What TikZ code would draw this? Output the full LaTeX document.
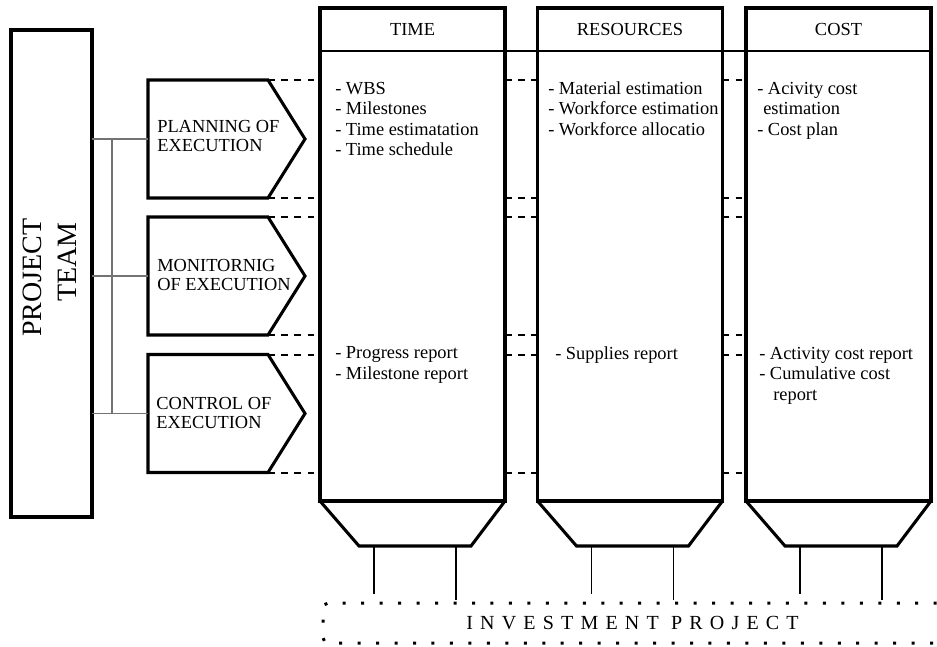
\documentclass[tikz,border=0pt]{standalone}
\usepackage{fontspec}
\setmainfont{Liberation Serif}
\usetikzlibrary{positioning,calc}

\begin{document}
\begin{tikzpicture}[
x=0.75pt, y=-0.75pt,
font=\fontsize{13.8}{15.4}\selectfont,
heavy/.style={line width=2.3pt},
block/.style={draw, heavy, inner sep=0pt, outer sep=0pt},
phase/.style={inner sep=0pt, outer sep=0pt, minimum width=90pt, minimum height=88.5pt},
phasetext/.style={anchor=west, align=left, inner sep=0pt, font=\fontsize{13.8}{14.3}\selectfont},
column/.style={block, minimum width=138.75pt, minimum height=369.75pt},
items/.style={anchor=base west, align=left, inner sep=0pt},
guide/.style={line width=1.5pt, dash pattern=on 4.9pt off 5pt},
link/.style={line width=0.8pt, black!55},
leg/.style={line width=0.8pt},
thickleg/.style={line width=1.6pt}
]
    \useasboundingbox (0,0) rectangle (937,646);

    % project team
    \node (team) [block, minimum width=60.75pt, minimum height=365.25pt] at (51.5,273.5) {};
    \node (teamtext) [rotate=90, align=left, inner sep=0pt,
      font=\fontsize{21}{26}\selectfont] at (50,277.5) {PROJECT\\\hspace*{26pt}TEAM};

    % phases
    \node (plan) [phase] at (208,139) {};
    \node (mon)  [phase] at (208,276) {};
    \node (ctrl) [phase] at (208,413.5) {};
    \foreach \p in {plan,mon,ctrl}
      \draw[heavy, line join=miter] (\p.north east) -- (\p.north west) -- (\p.south west)
        -- (\p.south east) -- ($(\p.east)+(37,0)$) -- cycle;

    \node (plantext) [phasetext] at (157,136) {PLANNING OF\\EXECUTION};
    \node (montext)  [phasetext] at (157,275) {MONITORNIG\\OF EXECUTION};
    \node (ctrltext) [phasetext] at (156,413) {CONTROL OF\\EXECUTION};

    \coordinate (bus) at (112,0);
    \draw[link] (plan.west -| bus) -- (ctrl.west -| bus);
    \foreach \p in {plan,mon,ctrl}
      \draw[link] (\p.west -| team.east) -- (\p.west);

    % columns
    \node (time) [column] at (412.5,254.5) {};
    \node (res)  [column] at (630,254.5) {};
    \node (cost) [column] at (838.5,254.5) {};

    \draw[line width=0.9pt] ($(time.north west)+(0,43)$) -- ($(cost.north east)+(0,43)$);

    \node (timehead) [anchor=base] at ($(time.north)+(0,27)$) {TIME};
    \node (reshead)  [anchor=base] at ($(res.north)+(0,27)$) {RESOURCES};
    \node (costhead) [anchor=base] at ($(cost.north)+(0,27)$) {COST};

    \foreach \col in {time,res,cost} {
      \draw[heavy, line join=miter] (\col.south west) -- ++(39,45) coordinate (\col-bl)
        -- ($(\col.south east)+(-34,45)$) coordinate (\col-br) -- (\col.south east);
      \path ($(\col-bl)+(15,0)$) coordinate (\col-l1) ($(\col-bl)+(97,0)$) coordinate (\col-l2);
    }

    % dashed guides
    \foreach \c in {plan.north east, plan.south east, mon.north east, mon.south east,
                    ctrl.north east, ctrl.south east} {
      \draw[guide] (\c) -- (\c -| time.west);
      \draw[guide] (\c -| time.east) -- (\c -| res.west);
      \draw[guide] (\c -| res.east) -- (\c -| cost.west);
    }

    % items (anchored at the baseline of the last line)
    \node (timeplan) [items] at (335,155.6) {- WBS\\- Milestones\\- Time estimatation\\- Time schedule};
    \node (resplan)  [items] at (548,135.1) {- Material estimation\\- Workforce estimation\\- Workforce allocatio};
    \node (costplan) [items] at (757,135.1) {- Acivity cost\\\hspace*{4.5pt}estimation\\- Cost plan};
    \node (timerep)  [items] at (335,379.5) {- Progress report\\- Milestone report};
    \node (resrep)   [items] at (555,359) {- Supplies report};
    \node (costrep)  [items] at (759,400.1) {- Activity cost report\\- Cumulative cost\\\hspace*{10.5pt}report};

    % investment project
    \node (invest) [draw, line width=2.25pt, dash pattern=on 2.25pt off 11.6pt, rounded corners=4pt,
      minimum width=464.25pt, minimum height=30pt, inner sep=0pt, outer sep=0pt,
      font=\fontsize{15}{18}\selectfont\addfontfeatures{LetterSpace=36}] at (632.5,623)
      {INVESTMENT PROJECT};

    \draw[thickleg, shorten >=6.75pt] (time-l1) -- (time-l1 |- invest.north);
    \draw[leg, shorten >=2.25pt] (time-l2) -- (time-l2 |- invest.north);
    \draw[leg, shorten >=6.75pt] (res-l1) -- (res-l1 |- invest.north);
    \draw[leg, shorten >=2.25pt] (res-l2) -- (res-l2 |- invest.north);
    \draw[thickleg, shorten >=6.75pt] (cost-l1) -- (cost-l1 |- invest.north);
    \draw[leg, shorten >=2.25pt] (cost-l2) -- (cost-l2 |- invest.north);
\end{tikzpicture}
\end{document}
